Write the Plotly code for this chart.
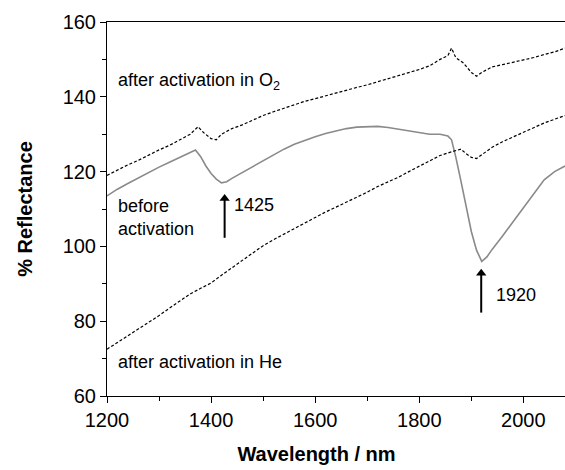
import plotly.graph_objects as go

# Wavelength (nm) and % reflectance
wl_o2 = [1200, 1220, 1240, 1260, 1280, 1300, 1320, 1340, 1360, 1375, 1385, 1400, 1410, 1420,
         1440, 1460, 1480, 1500, 1520, 1540, 1560, 1580, 1600, 1620, 1640, 1660, 1680, 1700,
         1720, 1740, 1760, 1780, 1800, 1820, 1840, 1855, 1862, 1870, 1885, 1900, 1910, 1920,
         1940, 1960, 1980, 2000, 2020, 2040, 2060, 2080]
refl_o2 = [119, 120.5, 121.8, 123, 124.5, 125.8, 127, 128.5, 130, 132, 130.5, 128.8, 128.5, 130,
           131.5, 132.5, 133.8, 135, 136, 137, 138, 138.8, 139.5, 140.3, 141, 141.8, 142.5, 143.2,
           144, 145, 145.7, 146.5, 147.3, 148.3, 150, 151, 153, 150.5, 149, 146.5, 145.5, 146.5,
           148, 148.6, 149.2, 149.8, 150.5, 151.3, 152, 153]

wl_before = [1200, 1220, 1240, 1260, 1280, 1300, 1320, 1340, 1360, 1370, 1380, 1390, 1400, 1410,
             1420, 1430, 1440, 1460, 1480, 1500, 1520, 1540, 1560, 1580, 1600, 1620, 1640, 1660,
             1680, 1700, 1720, 1740, 1760, 1780, 1800, 1820, 1840, 1855, 1862, 1870, 1880, 1890,
             1900, 1910, 1920, 1930, 1940, 1960, 1980, 2000, 2020, 2040, 2060, 2080]
refl_before = [113.5, 115.3, 116.8, 118.3, 119.8, 121.2, 122.5, 123.8, 125, 125.8, 124, 121.5, 119.5, 118,
               117, 117.3, 118.2, 119.8, 121.3, 122.8, 124.5, 126, 127.3, 128.4, 129.3, 130.2, 130.9, 131.5,
               131.9, 132.1, 132.1, 131.8, 131.3, 130.8, 130.3, 130, 130, 129.5, 128.5, 124, 117.5, 110.5,
               104, 99, 96, 97.2, 99.2, 102.8, 106.5, 110.3, 114, 117.8, 120, 121.5]

wl_he = [1200, 1220, 1240, 1260, 1280, 1300, 1320, 1340, 1360, 1380, 1400, 1420, 1440, 1460,
         1480, 1500, 1520, 1540, 1560, 1580, 1600, 1620, 1640, 1660, 1680, 1700, 1720, 1740,
         1760, 1780, 1800, 1820, 1840, 1860, 1880, 1890, 1900, 1910, 1920, 1940, 1960, 1980,
         2000, 2020, 2040, 2060, 2080]
refl_he = [72.5, 74.3, 76, 77.8, 79.5, 81.5, 83.5, 85.5, 87.3, 88.8, 90.2, 92.3, 94.3, 96.3,
           98.3, 100.2, 101.8, 103.3, 104.8, 106.3, 107.8, 109.2, 110.5, 111.8, 113.2, 114.5, 116, 117.2,
           118.5, 120, 121.5, 122.8, 124.3, 125.2, 126, 124.8, 123.8, 123.5, 124.5, 126.5, 128, 129.3,
           130.5, 131.8, 133, 134, 135]

# Band markers (nm) with arrow tail / tip reflectance levels
band_wl = [1426, 1919]
band_tail = [102.3, 82.3]
band_tip = [114.0, 94.0]
band_labels = ["1425", "1920"]

x_ticks = [1200, 1400, 1600, 1800, 2000]
y_ticks = [60, 80, 100, 120, 140, 160]

FONT = "Arial, Liberation Sans, sans-serif"

fig = go.Figure()
fig.add_trace(go.Scatter(x=wl_before, y=refl_before, mode="lines",
                         line=dict(color="#8a8a8a", width=1.6), showlegend=False))
fig.add_trace(go.Scatter(x=wl_o2, y=refl_o2, mode="lines",
                         line=dict(color="black", width=1.2, dash="3px,2px"), showlegend=False))
fig.add_trace(go.Scatter(x=wl_he, y=refl_he, mode="lines",
                         line=dict(color="black", width=1.2, dash="3px,2px"), showlegend=False))

# arrows: shaft + triangular head
for xa, yt, yh in zip(band_wl, band_tail, band_tip):
    fig.add_trace(go.Scatter(x=[xa, xa], y=[yt, yh - 1.5], mode="lines",
                             line=dict(color="black", width=2), showlegend=False, hoverinfo="skip"))
    fig.add_trace(go.Scatter(x=[xa], y=[yh - 1.2], mode="markers",
                             marker=dict(symbol="triangle-up", size=9, color="black"),
                             showlegend=False, hoverinfo="skip"))

ann = []
def txt(x, y, s):
    ann.append(dict(x=x, y=y, xref="x", yref="y", text=s, showarrow=False,
                    xanchor="left", yanchor="middle", align="left",
                    font=dict(family=FONT, size=18, color="black")))

txt(1217, 144, "after activation in O<sub>2</sub>")
txt(1217, 107.7, "before<br>activation")
txt(1441, 111.2, band_labels[0])
txt(1943, 87.1, band_labels[1])
txt(1217, 69, "after activation in He")

fig.update_layout(
    width=565, height=470,
    margin=dict(l=107, r=0, t=22, b=74),
    paper_bgcolor="white", plot_bgcolor="white",
    annotations=ann,
    font=dict(family=FONT, size=20, color="black"),
    xaxis=dict(range=[1200, 2080], tickvals=x_ticks, ticks="outside", ticklen=6, tickwidth=1,
               tickcolor="black", showline=True, linecolor="black", linewidth=1, mirror=True,
               showgrid=False, zeroline=False,
               minor=dict(dtick=100, tick0=1200, ticks="outside", ticklen=4, tickcolor="black"),
               tickfont=dict(family=FONT, size=20),
               title=dict(text="<b>Wavelength / nm</b>" + "&nbsp;" * 7, standoff=16,
                          font=dict(family=FONT, size=20))),
    yaxis=dict(range=[60, 160], tickvals=y_ticks, ticks="outside", ticklen=6, tickwidth=1,
               tickcolor="black", showline=True, linecolor="black", linewidth=1, mirror=True,
               showgrid=False, zeroline=False,
               minor=dict(dtick=10, tick0=60, ticks="outside", ticklen=4, tickcolor="black"),
               tickfont=dict(family=FONT, size=20),
               title=dict(text="<b>% Reflectance</b>", standoff=24,
                          font=dict(family=FONT, size=20))),
)

fig.write_html("out.html")
